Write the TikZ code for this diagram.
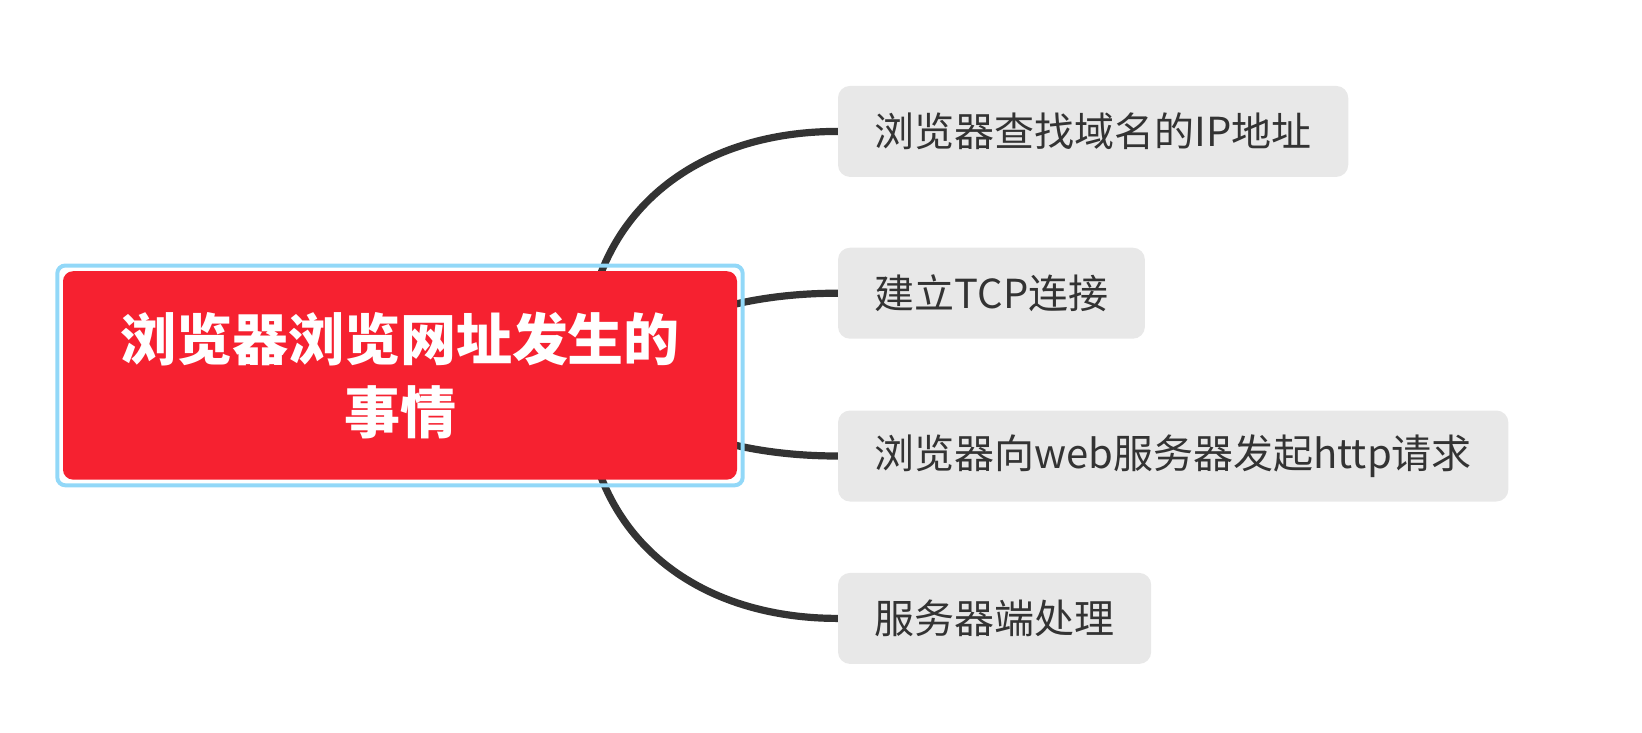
\documentclass[tikz,border=0pt]{standalone}
\usepackage{fontspec}
\setmainfont{Noto Sans CJK SC}
\usetikzlibrary{backgrounds}
\definecolor{rootred}{RGB}{246,33,48}
\definecolor{ringblue}{RGB}{146,216,248}
\definecolor{leafgray}{RGB}{232,232,232}
\definecolor{inkgray}{RGB}{51,51,51}
\tikzset{
  rootbox/.style={fill=rootred, rounded corners=10pt, minimum width=674pt, minimum height=208.4pt,
    inner sep=0pt, align=center, text=white, font=\fontsize{56}{73}\selectfont\bfseries},
  ring/.style={draw=ringblue, line width=4pt, rounded corners=8pt},
  leaf/.style={fill=leafgray, rounded corners=12pt, anchor=west, minimum height=91pt,
    inner xsep=36.6pt, text=inkgray, font=\fontsize{40}{48}\selectfont},
  branch/.style={draw=inkgray, line width=7.2pt}
}

\begin{document}
\begin{tikzpicture}[x=1pt,y=-1pt]
\useasboundingbox (0,0) rectangle (1642,732);
\node[rootbox] (root) at (400,375.4) {浏览器浏览网址发生的\\事情};
\draw[ring] ([shift={(-5.5pt,5.5pt)}]root.north west) rectangle ([shift={(5.5pt,-5.5pt)}]root.south east);
\coordinate (hub) at (585,375);
\node[leaf] (dns) at (837.8,131.4) {浏览器查找域名的IP地址};
\node[leaf] (tcp) at (837.8,293.2) {建立TCP连接};
\node[leaf] (req) at (837.8,456) {浏览器向web服务器发起http请求};
\node[leaf] (srv) at (837.8,618.4) {服务器端处理};
\begin{scope}[on background layer]
\draw[branch] (dns.west) .. controls +(-148,0) and +(-5,-155) .. (hub);
\draw[branch] (tcp.west) .. controls +(-173,0) and +(15,0) .. (hub);
\draw[branch] (req.west) .. controls +(-173,0) and +(15,0) .. (hub);
\draw[branch] (srv.west) .. controls +(-148,0) and +(-5,155) .. (hub);
\end{scope}
\end{tikzpicture}
\end{document}
